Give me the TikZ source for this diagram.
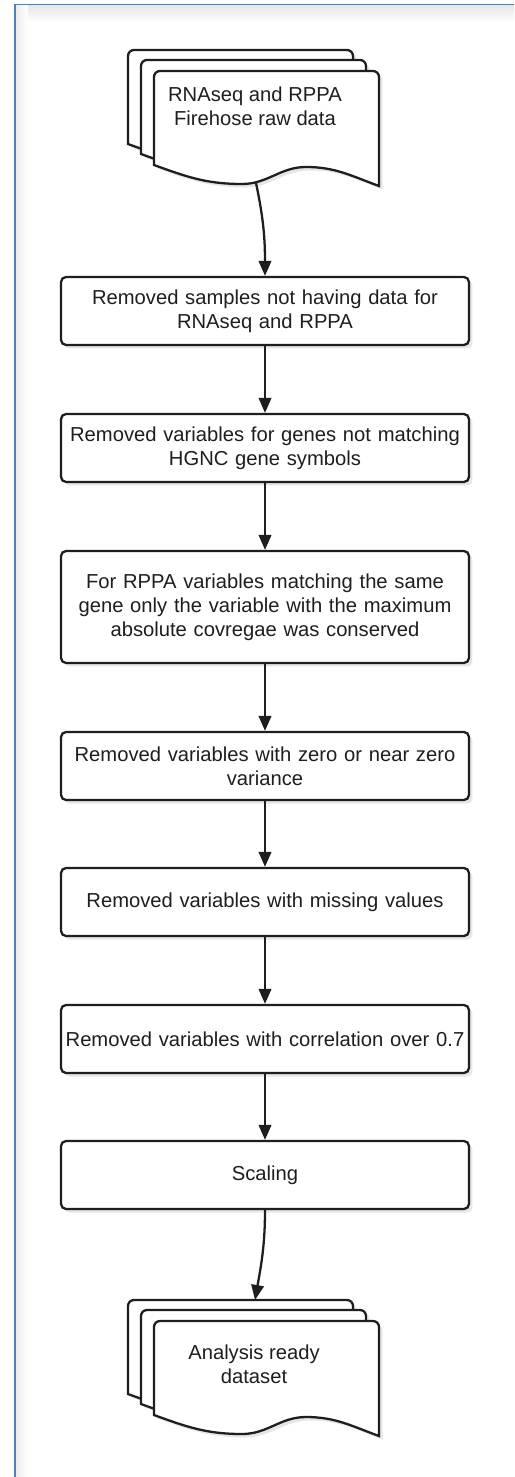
\documentclass[tikz,border=0pt]{standalone}
\usepackage{fontspec}
\setmainfont{Liberation Sans}
\usetikzlibrary{positioning, shadows, arrows.meta}
\definecolor{framecol}{RGB}{79,129,189}
\definecolor{inkcol}{RGB}{30,30,30}

% one sheet of a document stack, top left corner at (#1,#2)
\newcommand{\docsheet}[2]{%
  \draw[sheet] (#1,{#2+94}) -- (#1,{#2+6}) to[out=90,in=180] ({#1+6},#2) -- ({#1+219},#2)
    to[out=0,in=90] ({#1+225},{#2+6}) -- ({#1+225},{#2+115})
    to[out=160,in=0] ({#1+152},{#2+96}) to[out=180,in=0] ({#1+88},{#2+113})
    to[out=180,in=-20] (#1,{#2+94}) -- cycle;}

\begin{document}
\begin{tikzpicture}[x=0.02cm, y=-0.02cm,
    >={Triangle[length=0.3cm,width=0.25cm]}, % Arrow tip style
    stepbox/.style={draw=inkcol, line width=1.3pt, rounded corners=0.1cm, fill=white,
      minimum width=8.16cm, minimum height=1.36cm, text width=8.1cm, inner xsep=0.03cm,
      align=center, font=\fontsize{11.5}{13.7}\selectfont, text=inkcol,
      drop shadow={shadow xshift=0.07cm, shadow yshift=-0.07cm, opacity=0.2}},
    sheet/.style={draw=inkcol, line width=1.3pt, fill=white,
      drop shadow={shadow xshift=0.07cm, shadow yshift=-0.07cm, opacity=0.2}},
    doctext/.style={align=center, font=\fontsize{11.5}{13.7}\selectfont, text=inkcol},
    flow/.style={draw=inkcol, line width=1.3pt, ->}]
  \useasboundingbox (0,0) rectangle (514,1477);

  % Frame of the page
  \shade[top color=black!10, bottom color=white] (15,5) rectangle (514,22);
  \shade[left color=black!8, right color=white] (15,5) rectangle (28,1477);
  \draw[framecol, line width=0.03cm] (15,1477) -- (15,4.5) -- (514,4.5);

  % Input document stack
  \docsheet{128}{50}
  \docsheet{141}{60}
  \docsheet{154}{71}
  \node[doctext] (rawdata) at (255,106) {RNAseq and RPPA\\Firehose raw data};
  \coordinate (rawout) at (256,183);

  % Processing steps
  \node[stepbox] (samples) at (265,311) {Removed samples not having data for\\RNAseq and RPPA};
  \node[stepbox] (hgnc) at (265,448) {Removed variables for genes not matching\\HGNC gene symbols};
  \node[stepbox, minimum height=2.24cm] (rppa) at (265,607) {For RPPA variables matching the same\\gene only the variable with the maximum\\absolute covregae was conserved};
  \node[stepbox] (variance) at (265,766) {Removed variables with zero or near zero\\variance};
  \node[stepbox] (missing) at (265,902) {Removed variables with missing values};
  \node[stepbox] (correlation) at (265,1039) {Removed variables with correlation over 0.7};
  \node[stepbox] (scaling) at (265,1175) {Scaling};

  % Output document stack
  \docsheet{128}{1300}
  \docsheet{141}{1310}
  \docsheet{154}{1321}
  \node[doctext] (ready) at (254,1364) {Analysis ready\\dataset};
  \coordinate (readyin) at (255,1300);

  % Arrows between the steps
  \draw[flow] (rawout) to[out=-78,in=90] (samples.north);
  \draw[flow] (samples) -- (hgnc);
  \draw[flow] (hgnc) -- (rppa);
  \draw[flow] (rppa) -- (variance);
  \draw[flow] (variance) -- (missing);
  \draw[flow] (missing) -- (correlation);
  \draw[flow] (correlation) -- (scaling);
  \draw[flow] (scaling.south) to[out=-90,in=80] (readyin);
\end{tikzpicture}
\end{document}
